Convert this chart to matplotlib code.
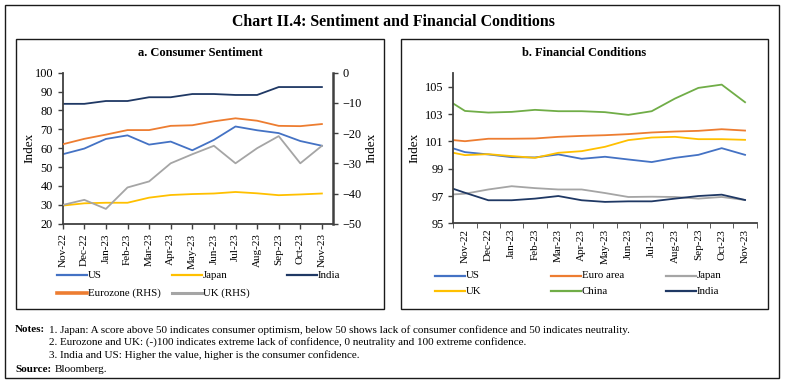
import matplotlib
matplotlib.use("Agg")
import matplotlib.pyplot as plt
import matplotlib.patches as mpatches
from matplotlib.lines import Line2D
import numpy as np

plt.rcParams['font.family'] = ['Liberation Serif', 'DejaVu Serif']

W, H = 785, 385

# ---- data: a. Consumer Sentiment
months = ["Nov-22", "Dec-22", "Jan-23", "Feb-23", "Mar-23", "Apr-23", "May-23",
          "Jun-23", "Jul-23", "Aug-23", "Sep-23", "Oct-23", "Nov-23"]
cs_us = [56.8, 59.8, 64.9, 66.8, 61.9, 63.5, 58.9, 64.4, 71.5, 69.5, 68.0, 63.8, 61.3]
cs_japan = [29.6, 30.8, 31.1, 31.1, 33.8, 35.2, 35.7, 36.0, 36.8, 36.1, 35.1, 35.5, 36.0]
cs_india = [83.5, 83.5, 85.0, 85.0, 87.0, 87.0, 88.7, 88.7, 88.2, 88.2, 92.4, 92.4, 92.4]
cs_eurozone = [-23.7, -21.9, -20.5, -19.0, -19.0, -17.6, -17.4, -16.1, -15.1, -15.9, -17.6, -17.7, -17.0]
cs_uk = [-43.8, -42.1, -45.1, -38.0, -36.0, -30.0, -27.0, -24.2, -30.0, -25.0, -21.0, -30.0, -24.2]

# ---- data: b. Financial Conditions (first reading sits half a month before Nov-22)
fc_x = np.concatenate([[-0.5], np.arange(len(months))])
fc_us = [100.49, 100.22, 100.05, 99.85, 99.83, 100.05, 99.73, 99.88, 99.68, 99.49, 99.80, 100.02, 100.51, 100.02]
fc_euro = [101.10, 101.02, 101.20, 101.20, 101.22, 101.34, 101.41, 101.46, 101.54, 101.66, 101.73, 101.78, 101.90, 101.80]
fc_japan = [97.12, 97.17, 97.48, 97.72, 97.58, 97.48, 97.48, 97.22, 96.93, 96.95, 96.93, 96.81, 96.93, 96.71]
fc_uk = [100.17, 100.00, 100.07, 99.93, 99.80, 100.17, 100.29, 100.61, 101.10, 101.29, 101.34, 101.17, 101.17, 101.12]
fc_china = [103.78, 103.24, 103.12, 103.17, 103.32, 103.22, 103.22, 103.15, 102.95, 103.22, 104.15, 104.93, 105.17, 103.88]
fc_india = [97.53, 97.24, 96.69, 96.69, 96.81, 97.00, 96.69, 96.57, 96.61, 96.61, 96.81, 97.00, 97.10, 96.71]

BLUE, YELLOW, NAVY = "#4472C4", "#FFC000", "#1F3864"
ORANGE, GREY, GREEN = "#ED7D31", "#A5A5A5", "#70AD47"
AXC = "#404040"


def fx(x):
    return x / W


def fy(y):
    return 1 - y / H


def px_axes(fig, left, top, right, bottom):
    return fig.add_axes([fx(left), fy(bottom), (right - left) / W, (bottom - top) / H])


def box(fig, left, top, right, bottom, lw=1.0):
    fig.patches.append(mpatches.Rectangle((fx(left), fy(bottom)), (right - left) / W,
                                          (bottom - top) / H, transform=fig.transFigure,
                                          fill=False, ec="#1a1a1a", lw=lw))


def legend_entry(fig, x, y, label, color, lw=1.6):
    fig.lines.append(Line2D([fx(x), fx(x + 30)], [fy(y), fy(y)], transform=fig.transFigure,
                            color=color, lw=lw))
    fig.text(fx(x + 31), fy(y), label, fontsize=7.8, va="center", ha="left")


def style_axis(ax):
    for s in ["left", "bottom", "right"]:
        ax.spines[s].set_color(AXC)
        ax.spines[s].set_linewidth(1.3)
    ax.spines["top"].set_visible(False)
    ax.tick_params(colors=AXC, labelcolor="black", labelsize=8.8, length=3.5, width=1)
    ax.tick_params(axis="x", labelsize=8.0)


fig = plt.figure(figsize=(W / 100, H / 100), dpi=100)

box(fig, 5, 5.3, 779.3, 378.3)
box(fig, 15.7, 38.7, 384.3, 309.3)
box(fig, 400.7, 38.7, 768.3, 309.3)

fig.text(fx(393), fy(22), "Chart II.4: Sentiment and Financial Conditions",
         fontsize=11.4, fontweight="bold", ha="center", va="center")

# ---- panel a
ax = px_axes(fig, 62.7, 72.7, 332.7, 223.7)
x = np.arange(len(months))
ax.plot(x, cs_us, color=BLUE, lw=1.3)
ax.plot(x, cs_japan, color=YELLOW, lw=1.3)
ax.plot(x, cs_india, color=NAVY, lw=1.3)
ax.set_ylim(20, 100)
ax.set_yticks(np.arange(20, 101, 10))
ax.set_xlim(0, 12.5)
ax.set_xticks(x)
ax.set_xticklabels(months, rotation=90)
ax.set_ylabel("Index", fontsize=9.5)
ax.yaxis.set_label_coords(-0.1, 0.5)
style_axis(ax)
ax.spines["right"].set_visible(False)

ax2 = ax.twinx()
ax2.plot(x, cs_eurozone, color=ORANGE, lw=1.3)
ax2.plot(x, cs_uk, color=GREY, lw=1.3)
ax2.set_ylim(-50, 0)
ax2.set_yticks(np.arange(-50, 1, 10))
ax2.set_ylabel("Index", fontsize=9.5, rotation=90)
ax2.yaxis.set_label_coords(1.122, 0.5)
style_axis(ax2)
ax2.spines["left"].set_visible(False)
ax2.spines["bottom"].set_visible(False)
ax2.spines["right"].set_linewidth(1.8)

fig.text(fx(200), fy(53), "a. Consumer Sentiment", fontsize=9, fontweight="bold",
         ha="center", va="center")

legend_entry(fig, 56.7, 275.3, "US", BLUE)
legend_entry(fig, 172, 275.3, "Japan", YELLOW)
legend_entry(fig, 287, 275.3, "India", NAVY)
legend_entry(fig, 56.7, 293.3, "Eurozone (RHS)", ORANGE, lw=2.6)
legend_entry(fig, 172, 293.3, "UK (RHS)", GREY, lw=2.2)

# ---- panel b
bx = px_axes(fig, 453.3, 73.3, 756.7, 223.3)
bx.plot(fc_x, fc_us, color=BLUE, lw=1.3)
bx.plot(fc_x, fc_euro, color=ORANGE, lw=1.3)
bx.plot(fc_x, fc_japan, color=GREY, lw=1.3)
bx.plot(fc_x, fc_uk, color=YELLOW, lw=1.3)
bx.plot(fc_x, fc_china, color=GREEN, lw=1.3)
bx.plot(fc_x, fc_india, color=NAVY, lw=1.3)
bx.set_ylim(95, 106)
bx.set_yticks(np.arange(95, 106, 2))
bx.set_xlim(-0.5, 12.5)
bx.set_xticks(x)
bx.set_xticklabels(months, rotation=90)
bx.set_xticks(np.arange(-0.5, 13, 1), minor=True)
bx.set_ylabel("Index", fontsize=9.5)
bx.yaxis.set_label_coords(-0.107, 0.5)
style_axis(bx)
bx.spines["right"].set_visible(False)
bx.tick_params(axis="x", which="major", length=0, pad=4)
bx.tick_params(axis="x", which="minor", length=3.5, color=AXC)

fig.text(fx(584), fy(53), "b. Financial Conditions", fontsize=9, fontweight="bold",
         ha="center", va="center")

legend_entry(fig, 435, 276, "US", BLUE)
legend_entry(fig, 550.7, 276, "Euro area", ORANGE)
legend_entry(fig, 665.7, 276, "Japan", GREY)
legend_entry(fig, 435, 291.3, "UK", YELLOW)
legend_entry(fig, 550.7, 291.3, "China", GREEN)
legend_entry(fig, 665.7, 291.3, "India", NAVY)

# ---- notes
nfs = 8.0
fig.text(fx(15), fy(330), "Notes:", fontsize=nfs, fontweight="bold", va="center")
fig.text(fx(49), fy(330), "1. Japan: A score above 50 indicates consumer optimism, below 50 shows "
         "lack of consumer confidence and 50 indicates neutrality.", fontsize=nfs, va="center")
fig.text(fx(49), fy(342.5), "2. Eurozone and UK: (-)100 indicates extreme lack of confidence, "
         "0 neutrality and 100 extreme confidence.", fontsize=nfs, va="center")
fig.text(fx(49), fy(355.5), "3. India and US: Higher the value, higher is the consumer confidence.",
         fontsize=nfs, va="center")
fig.text(fx(15), fy(369), "Source:", fontsize=nfs, fontweight="bold", va="center")
fig.text(fx(55), fy(369), "Bloomberg.", fontsize=nfs, va="center")

fig.savefig("out.png", dpi=100)
